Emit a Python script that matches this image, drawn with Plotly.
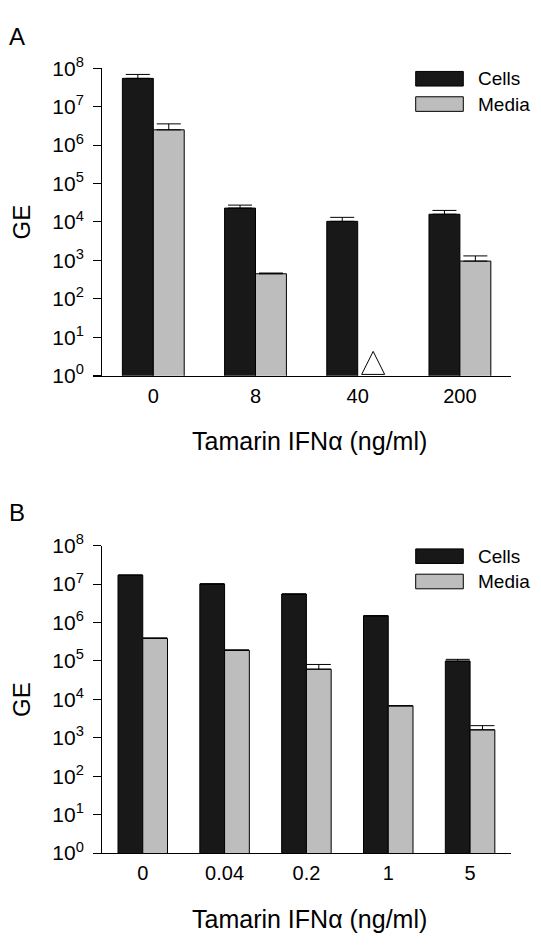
import plotly.graph_objects as go

W, H = 541, 952

# ---------------- data ----------------
doses_a = ["0", "8", "40", "200"]
cells_a = [5.45e7, 2.3e4, 1.04e4, 1.59e4]
cells_a_err = [1.45e7, 0.45e4, 0.28e4, 0.41e4]
media_a = [2.5e6, 450, None, 960]
media_a_err = [1.07e6, 20, None, 350]
media_a_nd = [None, None, 4.3, None]   # not detected (open triangle)

doses_b = ["0", "0.04", "0.2", "1", "5"]
cells_b = [1.71e7, 1.01e7, 5.5e6, 1.5e6, 9.9e4]
cells_b_err = [0, 0, 0, 0, 1.1e4]
media_b = [3.87e5, 1.89e5, 6.1e4, 6.8e3, 1.61e3]
media_b_err = [1.0e4, 0.5e4, 2.0e4, 0, 0.46e3]

ytick_vals = [10 ** k for k in range(9)]
ytick_text = [f"10<sup>{k}</sup>" for k in range(9)]

CELL_COLOR = "#181818"
MEDIA_COLOR = "#bdbdbd"
FONT = "Liberation Sans, Arial, sans-serif"
BARGAP = 0.395


def px(x):
    return x / W


def py(y):
    return 1 - y / H


fig = go.Figure()


def add_panel(doses, cells, cells_err, media, media_err, xa, ya, nd=None):
    idx = list(range(len(doses)))
    fig.add_trace(go.Bar(
        x=idx, y=cells, name="Cells", xaxis=xa, yaxis=ya,
        marker=dict(color=CELL_COLOR, line=dict(color="black", width=1)),
        error_y=dict(type="data", array=cells_err, arrayminus=[0] * len(idx),
                     symmetric=False, color="black", thickness=1, width=12),
        showlegend=False))
    fig.add_trace(go.Bar(
        x=idx, y=media, name="Media", xaxis=xa, yaxis=ya,
        marker=dict(color=MEDIA_COLOR, line=dict(color="black", width=1)),
        error_y=dict(type="data", array=[e if e is not None else 0 for e in media_err],
                     arrayminus=[0] * len(idx),
                     symmetric=False, color="black", thickness=1, width=12),
        showlegend=False))
    if nd is not None:
        off = (1 - BARGAP) / 4
        xs = [i + off for i, v in zip(idx, nd) if v is not None]
        ys = [v for v in nd if v is not None]
        fig.add_trace(go.Scatter(
            x=xs, y=ys, mode="markers", xaxis=xa, yaxis=ya, cliponaxis=False,
            marker=dict(symbol="arrow-up", size=23, color="white",
                        line=dict(color="black", width=1)),
            showlegend=False))


add_panel(doses_a, cells_a, cells_a_err, media_a, media_a_err, "x", "y", media_a_nd)
add_panel(doses_b, cells_b, cells_b_err, media_b, media_b_err, "x2", "y2")

xdom = [px(93), px(511)]
common_x = dict(showline=True, linecolor="black", linewidth=1, ticks="",
                showgrid=False, zeroline=False, tickfont=dict(size=20, family=FONT, color="black"),
                ticklabelstandoff=2)
common_y = dict(type="log", range=[0, 8], showline=True, linecolor="black", linewidth=1,
                ticks="outside", ticklen=8, tickwidth=1, tickcolor="black",
                tickvals=ytick_vals, ticktext=ytick_text, showgrid=False, zeroline=False,
                anchor="free", position=px(101), ticklabelstandoff=5,
                tickfont=dict(size=21, family=FONT, color="black"))

fig.update_layout(
    width=W, height=H,
    margin=dict(l=0, r=0, t=0, b=0),
    paper_bgcolor="white", plot_bgcolor="white",
    barmode="group", bargap=BARGAP, bargroupgap=0,
    font=dict(family=FONT, color="black"),
    xaxis=dict(domain=xdom, anchor="y", range=[-0.59, 3.5],
               tickvals=list(range(len(doses_a))), ticktext=doses_a, **common_x),
    yaxis=dict(domain=[py(371.5), py(55.7)], **common_y),
    xaxis2=dict(domain=xdom, anchor="y2", range=[-0.608, 4.5],
                tickvals=list(range(len(doses_b))), ticktext=doses_b, **common_x),
    yaxis2=dict(domain=[py(861.7), py(546)], **common_y),
)

ann = []
shapes = []
# panel letters
ann.append(dict(text="A", x=px(7), y=py(23.5), xanchor="left", yanchor="middle",
                font=dict(size=24)))
ann.append(dict(text="B", x=px(7), y=py(511.5), xanchor="left", yanchor="middle",
                font=dict(size=24)))
# y titles
for yc in (213.5, 704):
    ann.append(dict(text="GE", x=px(21.5), y=py(yc), xanchor="center", yanchor="middle",
                    textangle=-90, font=dict(size=24)))
# x titles
for yc in (439, 929.5):
    ann.append(dict(text="Tamarin IFN\u03b1 (ng/ml)", x=px(190), y=py(yc), xanchor="left",
                    yanchor="middle", font=dict(size=25)))
# legends
for top in (59, 549.3):
    for k, (lab, col) in enumerate((("Cells", CELL_COLOR), ("Media", MEDIA_COLOR))):
        y0 = top + k * 26
        shapes.append(dict(type="rect", xref="paper", yref="paper",
                           x0=px(415.7), x1=px(463.3), y0=py(y0), y1=py(y0 + 15),
                           fillcolor=col, line=dict(color="black", width=1)))
        ann.append(dict(text=lab, x=px(476), y=py(y0 + 7.5), xanchor="left",
                        yanchor="middle", font=dict(size=19)))

for a in ann:
    a.update(xref="paper", yref="paper", showarrow=False)
    a["font"].update(family=FONT, color="black")

fig.update_layout(annotations=ann, shapes=shapes)
fig.write_html("out.html", config={"displayModeBar": False},
               post_script="document.body.style.margin='0';document.body.style.overflow='hidden';")
